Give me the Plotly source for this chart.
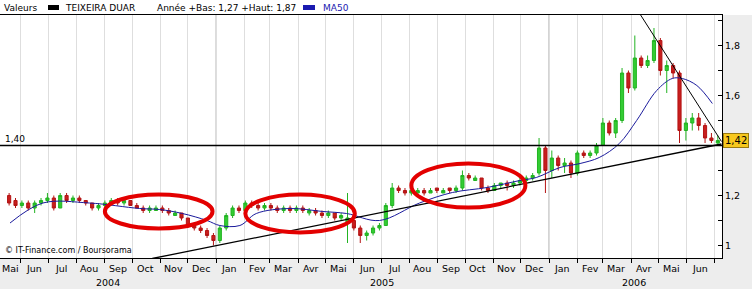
import plotly.graph_objects as go
import pandas as pd

# ---------------- data ----------------
OPEN = [1.20, 1.18, 1.16, 1.17, 1.15, 1.17, 1.18, 1.19, 1.15, 1.20,
        1.18, 1.19, 1.18, 1.17, 1.15, 1.16, 1.17, 1.18, 1.17, 1.18,
        1.16, 1.15, 1.14, 1.14, 1.15, 1.14, 1.12, 1.13, 1.11, 1.08,
        1.07, 1.06, 1.04, 1.02, 1.07, 1.12, 1.15, 1.14, 1.17, 1.16,
        1.15, 1.16, 1.15, 1.14, 1.15, 1.14, 1.15, 1.13, 1.14, 1.13,
        1.12, 1.13, 1.11, 1.09, 1.10, 1.07, 1.04, 1.05, 1.07, 1.08,
        1.16, 1.23, 1.22, 1.21, 1.21, 1.22, 1.21, 1.23, 1.21, 1.23,
        1.22, 1.23, 1.28, 1.26, 1.27, 1.23, 1.22, 1.24, 1.25, 1.24,
        1.25, 1.26, 1.27, 1.29, 1.39, 1.30, 1.35, 1.32, 1.33, 1.29,
        1.37, 1.36, 1.37, 1.40, 1.49, 1.45, 1.50, 1.69, 1.63, 1.75,
        1.72, 1.74, 1.82, 1.70, 1.72, 1.69, 1.46, 1.49, 1.51, 1.48,
        1.43, 1.41]
HIGH = [1.21, 1.19, 1.18, 1.18, 1.18, 1.19, 1.21, 1.20, 1.21, 1.21,
        1.20, 1.20, 1.18, 1.17, 1.17, 1.18, 1.19, 1.19, 1.19, 1.18,
        1.17, 1.16, 1.16, 1.16, 1.16, 1.15, 1.14, 1.13, 1.11, 1.09,
        1.08, 1.07, 1.05, 1.08, 1.13, 1.16, 1.16, 1.18, 1.18, 1.17,
        1.17, 1.17, 1.16, 1.16, 1.16, 1.16, 1.16, 1.15, 1.15, 1.14,
        1.14, 1.13, 1.13, 1.21, 1.10, 1.08, 1.06, 1.08, 1.09, 1.17,
        1.25, 1.24, 1.23, 1.23, 1.23, 1.23, 1.23, 1.23, 1.23, 1.23,
        1.24, 1.30, 1.29, 1.28, 1.27, 1.24, 1.25, 1.25, 1.26, 1.26,
        1.27, 1.28, 1.29, 1.43, 1.40, 1.38, 1.36, 1.35, 1.34, 1.38,
        1.38, 1.38, 1.41, 1.51, 1.50, 1.51, 1.71, 1.70, 1.84, 1.76,
        1.76, 1.87, 1.83, 1.74, 1.73, 1.70, 1.51, 1.53, 1.53, 1.49,
        1.45, 1.44]
LOW = [1.16, 1.15, 1.15, 1.14, 1.13, 1.16, 1.17, 1.14, 1.15, 1.17,
       1.17, 1.17, 1.16, 1.14, 1.14, 1.15, 1.16, 1.16, 1.16, 1.16,
       1.15, 1.13, 1.13, 1.14, 1.13, 1.12, 1.12, 1.10, 1.07, 1.06,
       1.05, 1.03, 1.00, 1.01, 1.06, 1.11, 1.13, 1.14, 1.15, 1.14,
       1.14, 1.14, 1.13, 1.13, 1.13, 1.13, 1.13, 1.12, 1.12, 1.11,
       1.11, 1.10, 1.10, 1.01, 1.06, 1.01, 1.02, 1.04, 1.06, 1.08,
       1.15, 1.21, 1.20, 1.20, 1.21, 1.20, 1.21, 1.21, 1.21, 1.21,
       1.21, 1.22, 1.26, 1.26, 1.22, 1.21, 1.22, 1.23, 1.22, 1.23,
       1.24, 1.25, 1.26, 1.28, 1.21, 1.27, 1.30, 1.29, 1.27, 1.28,
       1.35, 1.35, 1.36, 1.40, 1.44, 1.43, 1.49, 1.61, 1.62, 1.71,
       1.71, 1.73, 1.68, 1.61, 1.67, 1.41, 1.42, 1.46, 1.46, 1.41,
       1.41, 1.40]
CLOSE = [1.17, 1.16, 1.17, 1.15, 1.17, 1.18, 1.19, 1.15, 1.20, 1.18,
         1.19, 1.18, 1.17, 1.15, 1.16, 1.17, 1.18, 1.17, 1.18, 1.16,
         1.15, 1.14, 1.15, 1.15, 1.14, 1.13, 1.13, 1.11, 1.08, 1.07,
         1.06, 1.04, 1.02, 1.07, 1.12, 1.15, 1.14, 1.17, 1.16, 1.15,
         1.16, 1.15, 1.14, 1.15, 1.14, 1.15, 1.14, 1.14, 1.13, 1.12,
         1.13, 1.11, 1.12, 1.11, 1.07, 1.04, 1.05, 1.07, 1.08, 1.16,
         1.23, 1.22, 1.21, 1.22, 1.22, 1.21, 1.22, 1.22, 1.22, 1.22,
         1.23, 1.28, 1.27, 1.27, 1.23, 1.22, 1.24, 1.25, 1.24, 1.25,
         1.26, 1.27, 1.28, 1.39, 1.30, 1.35, 1.32, 1.33, 1.29, 1.37,
         1.36, 1.37, 1.40, 1.49, 1.45, 1.50, 1.69, 1.63, 1.75, 1.72,
         1.74, 1.82, 1.70, 1.72, 1.69, 1.46, 1.49, 1.51, 1.48, 1.43,
         1.42, 1.42]
WEEKS = pd.date_range("2004-05-19", periods=len(CLOSE), freq="7D")

MA_DATES = ["2004-05-20", "2004-06-25", "2004-08-15", "2004-10-09", "2004-10-31",
            "2004-11-25", "2004-12-22", "2005-01-05", "2005-01-27", "2005-02-14",
            "2005-03-23", "2005-04-28", "2005-05-24", "2005-06-29", "2005-08-12",
            "2005-09-17", "2005-10-25", "2005-11-30", "2005-12-18", "2006-01-13",
            "2006-02-04", "2006-02-25", "2006-03-19", "2006-04-07", "2006-04-29",
            "2006-05-16", "2006-05-27", "2006-06-12", "2006-06-29"]
MA_VALUES = [1.09, 1.17, 1.17, 1.148, 1.144,
             1.128, 1.10, 1.08, 1.08, 1.128,
             1.148, 1.136, 1.128, 1.10, 1.17,
             1.212, 1.232, 1.26, 1.272, 1.312,
             1.328, 1.352, 1.408, 1.50, 1.62,
             1.668, 1.668, 1.64, 1.568]

SUPPORT_DATES = ["2004-10-23", "2006-07-09"]
SUPPORT_VALUES = [0.948, 1.406]
RESIST_DATES = ["2006-04-11", "2006-07-09"]
RESIST_VALUES = [1.924, 1.416]
LEVEL = 1.40
LAST = 1.42

ELLIPSE_X0 = ["2004-09-01", "2005-02-02", "2005-08-03"]
ELLIPSE_X1 = ["2004-12-28", "2005-06-02", "2005-12-06"]
ELLIPSE_Y0 = [1.068, 1.052, 1.152]
ELLIPSE_Y1 = [1.204, 1.204, 1.328]

MONTH_LABELS = ["Mai", "Jun", "Jul", "Aou", "Sep", "Oct", "Nov", "Dec",
                "Jan", "Fev", "Mar", "Avr", "Mai", "Jun", "Jul", "Aou",
                "Sep", "Oct", "Nov", "Dec", "Jan", "Fev", "Mar", "Avr",
                "Mai", "Jun"]
YEAR_LABELS = ["2004", "2005", "2006"]
YEAR_POS = ["2004-09-04", "2005-07-02", "2006-04-04"]
Y_TICKS = [1.0, 1.1, 1.2, 1.3, 1.4, 1.5, 1.6, 1.7, 1.8, 1.9]
Y_TEXT = ["1", "", "1,2", "", "", "", "1,6", "", "1,8", ""]

X_RANGE = ["2004-05-09", "2006-07-09 14:00"]
Y_RANGE = [0.95, 1.922]

FONT = "DejaVu Sans"
PLOT_W, PLOT_H = 722, 243

fig = go.Figure()

fig.add_trace(go.Candlestick(
    x=WEEKS, open=OPEN, high=HIGH, low=LOW, close=CLOSE,
    increasing=dict(line=dict(color="#22B422", width=1), fillcolor="#33CC33"),
    decreasing=dict(line=dict(color="#B41414", width=1), fillcolor="#C81E1E"),
    whiskerwidth=0, showlegend=False, hoverinfo="skip"))

fig.add_trace(go.Scatter(x=MA_DATES, y=MA_VALUES, mode="lines",
                         line=dict(color="#1A1A9C", width=1, shape="spline"),
                         showlegend=False, hoverinfo="skip"))
fig.add_trace(go.Scatter(x=SUPPORT_DATES, y=SUPPORT_VALUES, mode="lines",
                         line=dict(color="black", width=1.3),
                         showlegend=False, hoverinfo="skip"))
fig.add_trace(go.Scatter(x=RESIST_DATES, y=RESIST_VALUES, mode="lines",
                         line=dict(color="black", width=1),
                         showlegend=False, hoverinfo="skip"))

shapes = []
shapes.append(dict(type="rect", xref="paper", yref="paper", x0=0, x1=752 / PLOT_W,
                   y0=1, y1=1 + 15 / PLOT_H, fillcolor="white", line=dict(width=0),
                   layer="below"))
for d in ["2005-01-01", "2006-01-01"]:
    shapes.append(dict(type="line", xref="x", yref="paper", x0=d, x1=d, y0=0, y1=1,
                       line=dict(color="#9A9A9A", width=1), layer="below"))
shapes.append(dict(type="line", xref="paper", yref="y", x0=0, x1=1, y0=LEVEL, y1=LEVEL,
                   line=dict(color="black", width=1.5)))
for x0, x1, y0, y1 in zip(ELLIPSE_X0, ELLIPSE_X1, ELLIPSE_Y0, ELLIPSE_Y1):
    shapes.append(dict(type="circle", xref="x", yref="y", x0=x0, x1=x1, y0=y0, y1=y1,
                       line=dict(color="#E30000", width=4)))
shapes.append(dict(type="rect", xref="paper", yref="paper", x0=48 / PLOT_W, x1=59 / PLOT_W,
                   y0=1 + 5 / PLOT_H, y1=1 + 10 / PLOT_H, fillcolor="black", line=dict(width=0)))
shapes.append(dict(type="rect", xref="paper", yref="paper", x0=303 / PLOT_W, x1=315 / PLOT_W,
                   y0=1 + 5 / PLOT_H, y1=1 + 10 / PLOT_H, fillcolor="#1A1AB0", line=dict(width=0)))

ann = []
hy = 1 + 7.5 / PLOT_H
for txt, px, col in [("Valeurs", 2, "black"), ("TEIXEIRA DUAR", 63, "black"),
                     ("Année +Bas: 1,27 +Haut: 1,87", 155, "black"), ("MA50", 321, "#1A1AB0")]:
    ann.append(dict(text=txt, xref="paper", yref="paper", x=px / PLOT_W, y=hy,
                    xanchor="left", yanchor="middle", showarrow=False,
                    font=dict(family=FONT, size=9, color=col)))

month_starts = pd.date_range("2004-05-01", periods=len(MONTH_LABELS), freq="MS")
for k, (ms, lab) in enumerate(zip(month_starts, MONTH_LABELS)):
    pos = pd.Timestamp("2004-05-20") if k == 0 else ms + pd.Timedelta(days=14)
    ann.append(dict(text=lab, xref="x", yref="paper", x=pos, y=-10 / PLOT_H,
                    xanchor="center", yanchor="middle", showarrow=False,
                    font=dict(family=FONT, size=9.5, color="black")))
for lab, pos in zip(YEAR_LABELS, YEAR_POS):
    ann.append(dict(text=lab, xref="x", yref="paper", x=pos, y=-24 / PLOT_H,
                    xanchor="center", yanchor="middle", showarrow=False,
                    font=dict(family=FONT, size=9.5, color="black")))

ann.append(dict(text="1,40", xref="paper", yref="y", x=3 / PLOT_W, y=LEVEL,
                xanchor="left", yanchor="bottom", showarrow=False,
                font=dict(family=FONT, size=9, color="black")))
ann.append(dict(text="1,42", xref="paper", yref="y", x=1, y=LAST, xshift=1,
                xanchor="left", yanchor="middle", showarrow=False,
                bgcolor="#F7C81E", bordercolor="#9A7A10", borderwidth=1, borderpad=1,
                font=dict(family=FONT, size=10, color="black")))
ann.append(dict(text="© IT-Finance.com / Boursorama", xref="paper", yref="paper",
                x=3 / PLOT_W, y=8 / PLOT_H, xanchor="left", yanchor="middle",
                showarrow=False, font=dict(family=FONT, size=8, color="black")))

month_ticks = pd.date_range("2004-06-01", "2006-07-01", freq="MS")

fig.update_layout(
    width=752, height=289,
    margin=dict(l=0, r=30, t=15, b=31, pad=0),
    paper_bgcolor="#EDEDED", plot_bgcolor="white",
    showlegend=False,
    shapes=shapes, annotations=ann,
    xaxis=dict(type="date", range=X_RANGE, tickvals=month_ticks, showticklabels=False,
               ticks="outside", ticklen=4, tickcolor="black",
               showgrid=True, gridcolor="#DEDEDE", gridwidth=1,
               showline=True, linecolor="black", linewidth=1, mirror=True,
               zeroline=False, rangeslider=dict(visible=False), fixedrange=True),
    yaxis=dict(side="right", range=Y_RANGE, tickvals=Y_TICKS, ticktext=Y_TEXT,
               ticks="inside", ticklen=4, tickcolor="black", showgrid=False,
               showline=True, linecolor="black", linewidth=1, zeroline=False,
               tickfont=dict(family=FONT, size=9.5, color="black")),
    font=dict(family=FONT, size=10, color="black"),
)

fig.write_html("out.html")
